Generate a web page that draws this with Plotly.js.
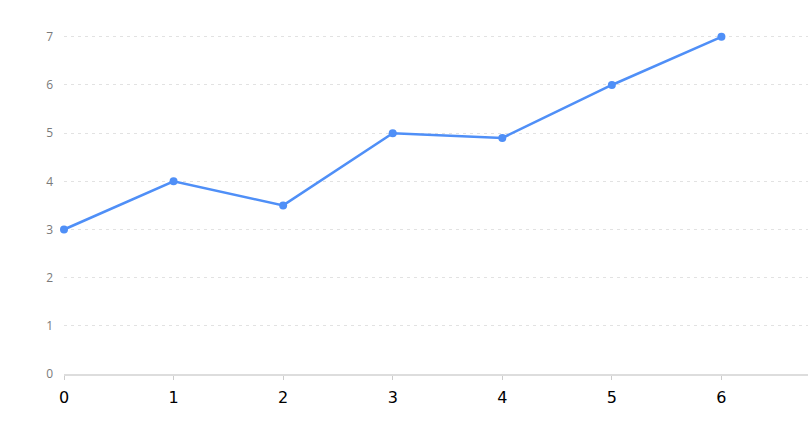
<!DOCTYPE html>
<html>
<head>
<meta charset="utf-8">
<script src="https://cdn.plot.ly/plotly-3.0.1.min.js"></script>
<style>html,body{margin:0;padding:0;background:#fff;}#chart{width:808px;height:434px;}</style>
</head>
<body>
<div id="chart"></div>
<script>
const xValues = [0, 1, 2, 3, 4, 5, 6];
const yValues = [3, 4, 3.5, 5, 4.9, 6, 7];
const yTicks = [0, 1, 2, 3, 4, 5, 6, 7];

const trace = {
  x: xValues,
  y: yValues,
  type: 'scatter',
  mode: 'lines+markers',
  line: {color: '#4f8ff7', width: 2.5},
  marker: {color: '#4f8ff7', size: 8},
  cliponaxis: false,
  hoverinfo: 'x+y'
};

const layout = {
  width: 808,
  height: 434,
  margin: {l: 64, r: 0, t: 32, b: 60},
  paper_bgcolor: '#fff',
  plot_bgcolor: '#fff',
  showlegend: false,
  xaxis: {
    range: [0, 6.79],
    tickvals: xValues,
    ticktext: xValues.map(String),
    showgrid: false,
    zeroline: false,
    showline: true,
    linecolor: '#dddddd',
    linewidth: 2,
    ticks: 'outside',
    ticklen: 4,
    tickwidth: 1,
    tickcolor: '#cccccc',
    tickfont: {family: 'DejaVu Sans, sans-serif', size: 16, color: '#000'},
    ticklabelstandoff: 4
  },
  yaxis: {
    range: [0, 7.1],
    tickvals: yTicks,
    showgrid: true,
    gridcolor: '#e2e2e2',
    gridwidth: 1,
    griddash: '3px,4px',
    zeroline: false,
    showline: false,
    ticks: '',
    tickfont: {family: 'Open Sans, sans-serif', size: 12, color: '#7a7a7a'},
    ticklabelstandoff: 10
  }
};

Plotly.newPlot('chart', [trace], layout, {displayModeBar: false, staticPlot: true});
</script>
</body>
</html>
